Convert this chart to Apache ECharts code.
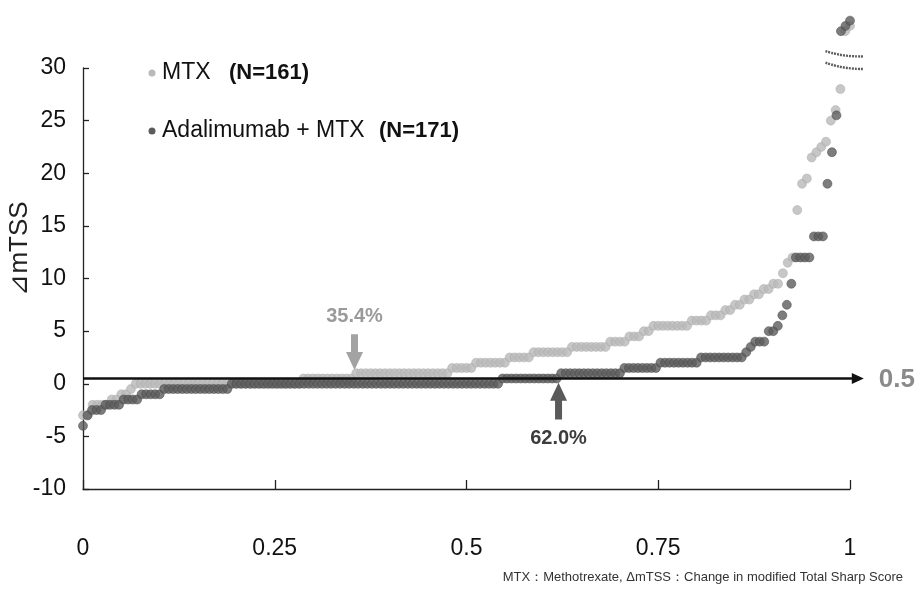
<!DOCTYPE html>
<html>
<head>
<meta charset="utf-8">
<script src="https://cdn.jsdelivr.net/npm/echarts@6/dist/echarts.min.js"></script>
<style>
  html, body { margin: 0; padding: 0; background: #fff; }
  #chart { width: 917px; height: 590px; }
</style>
</head>
<body>
<div id="chart"></div>
<script>
// Sorted ΔmTSS values per arm, with the number of patients at each value
const mtxValues = [-3, -2, -1.5, -1, -0.5, 0, 0.5, 1, 1.5, 2, 2.5, 3, 3.5, 4, 4.5, 5, 5.5, 6, 6.5, 7, 7.5, 8, 8.5, 9, 9.5,
                   10.5, 11.5, 12, 16.5, 19, 19.5, 21.5, 22, 22.5, 23, 25, 26, 28, 33.5, 34];
const mtxCounts = [2, 4, 2, 2, 1, 35, 11, 20, 5, 7, 5, 8, 8, 4, 3, 2, 8, 4, 3, 2, 2, 2, 2, 2, 2,
                   1, 1, 1, 1, 1, 1, 1, 1, 1, 1, 1, 1, 1, 1, 1];
const adaValues = [-4, -3, -2.5, -2, -1.5, -1, -0.5, 0, 0.5, 1, 1.5, 2, 2.5, 3, 3.5, 4, 5, 5.5, 6.5, 7.5, 9.5,
                   12, 14, 19, 22, 25.5, 33.5, 34, 34.5];
const adaCounts = [1, 1, 3, 4, 4, 5, 15, 60, 13, 14, 8, 9, 10, 1, 1, 3, 2, 1, 1, 1, 1,
                   4, 3, 1, 1, 1, 1, 1, 1];

const seriesNames = ['MTX', 'Adalimumab + MTX'];
const yAxisTitle = '⊿mTSS';
const xTickLabels = ['0', '0.25', '0.5', '0.75', '1'];
const yTickLabels = ['-10', '-5', '0', '5', '10', '15', '20', '25', '30'];

// Cut-off line and the share of each arm at or below it
const cutoff = 0.5;
const mtxShareAtCutoff = 0.354;
const adaShareAtCutoff = 0.620;

// Expand the value/count runs into a cumulative-probability scatter
function cumulative(values, counts) {
  const sorted = [];
  values.forEach((v, i) => { for (let k = 0; k < counts[i]; k++) sorted.push(v); });
  const n = sorted.length;
  return { n: n, points: sorted.map((v, i) => [i / (n - 1), v]) };
}
const mtx = cumulative(mtxValues, mtxCounts);
const ada = cumulative(adaValues, adaCounts);

const sans = '"Liberation Sans", Arial, sans-serif';
const lightGrey = '#b9b9b9';
const darkGrey = '#5c5c5c';

const chart = echarts.init(document.getElementById('chart'), null, { renderer: 'canvas' });

chart.setOption({
  animation: false,
  backgroundColor: '#ffffff',
  grid: { left: 83, right: 67, top: 68, bottom: 101, containLabel: false, outerBoundsMode: 'none' },
  xAxis: {
    type: 'value', min: 0, max: 1, interval: 0.25,
    axisLine: { onZero: false, lineStyle: { color: '#222', width: 1.3 } },
    axisTick: { inside: true, length: 9, lineStyle: { color: '#222', width: 1.3 } },
    axisLabel: {
      margin: 48, fontSize: 23, color: '#111', fontFamily: sans,
      formatter: (v) => xTickLabels[Math.round(v / 0.25)]
    },
    splitLine: { show: false }
  },
  yAxis: {
    type: 'value', min: -10, max: 30, interval: 5,
    axisLine: { onZero: false, lineStyle: { color: '#222', width: 1.3 } },
    axisTick: { inside: true, length: 6, lineStyle: { color: '#222', width: 1.3 } },
    axisLabel: {
      margin: 17, fontSize: 23, color: '#111', fontFamily: sans,
      formatter: (v) => yTickLabels[Math.round((v + 10) / 5)]
    },
    splitLine: { show: false }
  },
  series: [
    {
      name: seriesNames[0], type: 'scatter', clip: false, z: 2,
      symbolSize: 9,
      itemStyle: { color: lightGrey, borderColor: '#a8a8a8', borderWidth: 0.6 },
      data: mtx.points
    },
    {
      name: seriesNames[1], type: 'scatter', clip: false, z: 3,
      symbolSize: 9,
      itemStyle: { color: darkGrey, borderColor: '#444', borderWidth: 0.6 },
      data: ada.points
    }
  ]
});

// Annotations placed from the axis scales
function px(x, y) { return chart.convertToPixel({ gridIndex: 0 }, [x, y]); }

function arrow(x, tipY, tailY, color) {
  const tip = px(x, tipY), tail = px(x, tailY);
  const dir = tail[1] > tip[1] ? 1 : -1;   // +1: arrow points up
  const head = 18, hw = 8.5, sw = 3.5;
  const cx = tip[0], ty = tip[1], by = ty + dir * head;
  return {
    type: 'polygon', z: 20,
    shape: { points: [[cx, ty], [cx + hw, by], [cx + sw, by], [cx + sw, tail[1]],
                      [cx - sw, tail[1]], [cx - sw, by], [cx - hw, by]] },
    style: { fill: color }
  };
}

const mtxTip = 1.3, mtxTail = 4.7;
const adaTip = 0.1, adaTail = -3.4;
const mtxLabelPos = px(mtxShareAtCutoff, mtxTail);
const adaLabelPos = px(adaShareAtCutoff, adaTail);

// horizontal cut-off line with an arrowhead running past the axis end
const cutStart = px(0, cutoff), cutEnd = px(1.018, cutoff);

// axis-break marks at the top of the value scale
function breakMark(y0, y1) {
  const a = px(0.968, y0), m = px(0.992, (y0 + y1) / 2 - 0.15), b = px(1.017, y1);
  return {
    type: 'polyline', z: 20,
    shape: { points: [a, m, b], smooth: 0.5 },
    style: { stroke: '#5e5e5e', lineWidth: 2.4, fill: null, lineDash: [2, 1] }
  };
}

const legendFont = 'normal 23px ' + sans;
const legendBold = 'bold 22px ' + sans;
const titleCenter = px(0, 10);

chart.setOption({
  graphic: [
    // value-axis title, rotated
    {
      type: 'text', z: 20, x: 20, y: titleCenter[1] - 30, rotation: Math.PI / 2,
      style: { text: yAxisTitle, font: 'normal 26px ' + sans, fill: '#222',
               align: 'center', verticalAlign: 'middle' }
    },
    {
      type: 'line', z: 18,
      shape: { x1: cutStart[0], y1: cutStart[1], x2: cutEnd[0] - 8, y2: cutEnd[1] },
      style: { stroke: '#111', lineWidth: 2.6 }
    },
    {
      type: 'polygon', z: 18,
      shape: { points: [[cutEnd[0], cutEnd[1]], [cutEnd[0] - 12, cutEnd[1] - 5.5], [cutEnd[0] - 12, cutEnd[1] + 5.5]] },
      style: { fill: '#111' }
    },
    {
      type: 'text', z: 20, x: cutEnd[0] + 15, y: cutEnd[1] + 1,
      style: { text: String(cutoff), font: 'bold 26px ' + sans, fill: '#8a8a8a', verticalAlign: 'middle' }
    },
    arrow(mtxShareAtCutoff, mtxTip, mtxTail, '#a3a3a3'),
    arrow(adaShareAtCutoff, adaTip, adaTail, '#5a5a5a'),
    {
      type: 'text', z: 20, x: mtxLabelPos[0], y: mtxLabelPos[1] - 18,
      style: { text: (mtxShareAtCutoff * 100).toFixed(1) + '%', fill: '#9a9a9a',
               font: 'bold 20px ' + sans, align: 'center', verticalAlign: 'middle' }
    },
    {
      type: 'text', z: 20, x: adaLabelPos[0], y: adaLabelPos[1] + 19,
      style: { text: (adaShareAtCutoff * 100).toFixed(1) + '%', fill: '#3c3c3c',
               font: 'bold 20px ' + sans, align: 'center', verticalAlign: 'middle' }
    },
    breakMark(31.6, 31.1),
    breakMark(30.5, 29.9),
    // legend
    { type: 'circle', z: 20, shape: { cx: 152, cy: 73, r: 3.5 }, style: { fill: lightGrey } },
    { type: 'text', z: 20, x: 162, y: 73,
      style: { text: seriesNames[0], font: legendFont, fill: '#111', verticalAlign: 'middle' } },
    { type: 'text', z: 20, x: 229, y: 73,
      style: { text: '(N=' + mtx.n + ')', font: legendBold, fill: '#111', verticalAlign: 'middle' } },
    { type: 'circle', z: 20, shape: { cx: 152, cy: 131, r: 3.5 }, style: { fill: darkGrey } },
    { type: 'text', z: 20, x: 162, y: 131,
      style: { text: seriesNames[1], font: legendFont, fill: '#111', verticalAlign: 'middle' } },
    { type: 'text', z: 20, x: 379, y: 131,
      style: { text: '(N=' + ada.n + ')', font: legendBold, fill: '#111', verticalAlign: 'middle' } },
    // footnote
    { type: 'text', z: 20, right: 14, top: 571,
      style: { text: 'MTX：Methotrexate, ΔmTSS：Change in modified Total Sharp Score',
               font: 'normal 13px ' + sans, fill: '#333' } }
  ]
});
</script>
</body>
</html>
